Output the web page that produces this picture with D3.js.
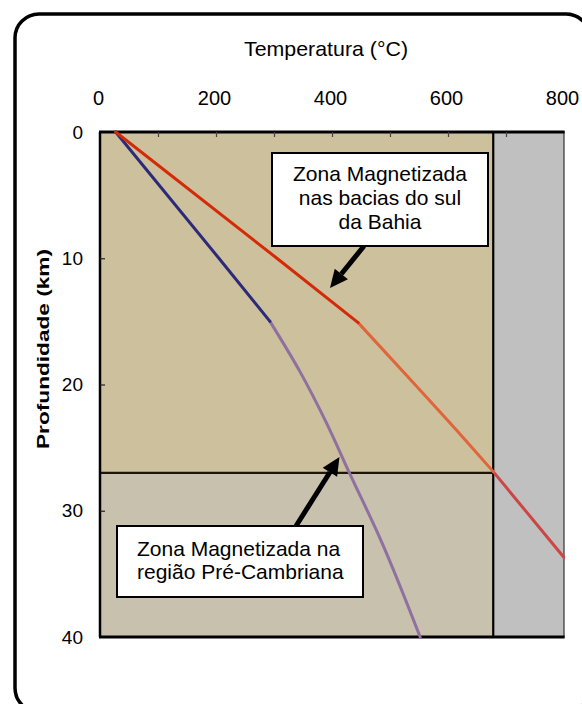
<!DOCTYPE html>
<html>
<head>
<meta charset="utf-8">
<script src="https://cdn.jsdelivr.net/npm/d3@7"></script>
<style>
  html, body { margin: 0; padding: 0; background: #ffffff; }
  svg { display: block; }
  text { font-family: "Liberation Sans", Arial, sans-serif; fill: #000; }
</style>
</head>
<body>
<script>
// Geotherms: temperature (°C) against depth (km)
const tempTicks = [0, 200, 400, 600, 800];
const tempMinorTicks = [100, 200, 300, 400, 500, 600, 700];
const depthTicks = [0, 10, 20, 30, 40];
const depthInnerTicks = [10, 20, 30];

// Pre-Cambrian region geotherm, upper (crust) segment and deeper segment
const precambrianUpperT = [27, 205, 293];
const precambrianUpperZ = [0, 10, 15];
const precambrianLowerT = [293, 345, 390, 430, 483, 552];
const precambrianLowerZ = [15, 19, 23, 27, 32.2, 40];

// Southern Bahia basins geotherm, three segments
const basinUpperT = [27, 305, 445];
const basinUpperZ = [0, 10, 15.1];
const basinMiddleT = [445, 543, 629, 678];
const basinMiddleZ = [15.1, 20, 24.35, 26.9];
const basinLowerT = [678, 800];
const basinLowerZ = [26.9, 33.7];

// Shaded zones
const curieTemp = 678;      // boundary of the magnetised zone (°C)
const mohoDepth = 27;       // lower limit of the basin zone (km)

const W = 582, H = 704;
const svg = d3.select("body").append("svg").attr("width", W).attr("height", H);

const x = d3.scaleLinear().domain([0, 800]).range([100, 564]);
const y = d3.scaleLinear().domain([0, 40]).range([132, 637]);

// Outer rounded frame
svg.append("rect")
  .attr("x", 15).attr("y", 14).attr("width", 575).attr("height", 698)
  .attr("rx", 24).attr("ry", 24)
  .attr("fill", "none").attr("stroke", "#000").attr("stroke-width", 3.5);

// Background zones
svg.append("rect")
  .attr("x", x(curieTemp)).attr("y", y(0))
  .attr("width", x(800) - x(curieTemp)).attr("height", y(40) - y(0))
  .attr("fill", "#c0c0c0").attr("stroke", "#333").attr("stroke-width", 1.2);
svg.append("rect")
  .attr("x", x(0)).attr("y", y(0))
  .attr("width", x(curieTemp) - x(0)).attr("height", y(mohoDepth) - y(0))
  .attr("fill", "#cdc09c");
svg.append("rect")
  .attr("x", x(0)).attr("y", y(mohoDepth))
  .attr("width", x(curieTemp) - x(0)).attr("height", y(40) - y(mohoDepth))
  .attr("fill", "#c8c1ad");

// Zone borders
svg.append("line")
  .attr("x1", x(0)).attr("x2", x(curieTemp))
  .attr("y1", y(mohoDepth)).attr("y2", y(mohoDepth))
  .attr("stroke", "#1e1608").attr("stroke-width", 2.2);
svg.append("line")
  .attr("x1", x(curieTemp)).attr("x2", x(curieTemp))
  .attr("y1", y(0)).attr("y2", y(40))
  .attr("stroke", "#000").attr("stroke-width", 2.2);
svg.append("line")
  .attr("x1", x(0)).attr("x2", x(0))
  .attr("y1", y(0)).attr("y2", y(40))
  .attr("stroke", "#000").attr("stroke-width", 2.5);
svg.append("line")
  .attr("x1", x(0) - 1).attr("x2", x(800) + 0.6)
  .attr("y1", y(0)).attr("y2", y(0))
  .attr("stroke", "#000").attr("stroke-width", 3);
svg.append("line")
  .attr("x1", x(0) - 1).attr("x2", x(800) + 0.6)
  .attr("y1", y(40)).attr("y2", y(40))
  .attr("stroke", "#000").attr("stroke-width", 3);

// Inner tick marks
svg.append("g")
  .attr("transform", `translate(0,${y(0)})`)
  .call(d3.axisBottom(x).tickValues(tempMinorTicks).tickSize(5).tickFormat(""))
  .call(g => g.select(".domain").remove())
  .call(g => g.selectAll("line").attr("stroke", "#444").attr("stroke-width", 1.2));
svg.append("g")
  .attr("transform", `translate(${x(0)},0)`)
  .call(d3.axisRight(y).tickValues(depthInnerTicks).tickSize(5).tickFormat(""))
  .call(g => g.select(".domain").remove())
  .call(g => g.selectAll("line").attr("stroke", "#222").attr("stroke-width", 1.2));

// Tick labels
svg.append("g")
  .attr("transform", `translate(-2,${y(0)})`)
  .call(d3.axisTop(x).tickValues(tempTicks).tickSize(0).tickPadding(27))
  .call(g => g.select(".domain").remove())
  .call(g => g.selectAll("text").attr("font-size", 20).attr("fill", "#000"));
svg.append("g")
  .attr("transform", `translate(${x(0)},0)`)
  .call(d3.axisLeft(y).tickValues(depthTicks).tickSize(0).tickPadding(17))
  .call(g => g.select(".domain").remove())
  .call(g => g.selectAll("text").attr("font-size", 19).attr("fill", "#000"));

// Axis titles
svg.append("text")
  .attr("x", 326).attr("y", 56).attr("text-anchor", "middle")
  .attr("font-size", 21).attr("textLength", 164).attr("lengthAdjust", "spacingAndGlyphs")
  .text("Temperatura (°C)");
svg.append("text")
  .attr("transform", "translate(49,349) rotate(-90)")
  .attr("text-anchor", "middle").attr("font-weight", "bold")
  .attr("font-size", 16.5).attr("textLength", 200).attr("lengthAdjust", "spacingAndGlyphs")
  .text("Profundidade (km)");

// Geotherm curves
const straight = d3.line().x(d => x(d[0])).y(d => y(d[1]));
const smooth = d3.line().x(d => x(d[0])).y(d => y(d[1])).curve(d3.curveMonotoneY);
const pairs = (T, Z) => T.map((t, i) => [t, Z[i]]);

svg.append("defs").append("clipPath").attr("id", "plotClip")
  .append("rect").attr("x", x(0)).attr("y", y(0) - 2)
  .attr("width", x(800) - x(0) + 1).attr("height", y(40) - y(0) + 4);

const curves = svg.append("g").attr("clip-path", "url(#plotClip)");
const series = [
  { T: precambrianLowerT, Z: precambrianLowerZ, color: "#8f70a0", gen: smooth },
  { T: basinLowerT, Z: basinLowerZ, color: "#cc4646", gen: straight },
  { T: basinMiddleT, Z: basinMiddleZ, color: "#e0653a", gen: smooth },
  { T: precambrianUpperT, Z: precambrianUpperZ, color: "#2d2a7a", gen: straight },
  { T: basinUpperT, Z: basinUpperZ, color: "#d42a08", gen: straight }
];
curves.selectAll("path.geotherm").data(series).join("path")
  .attr("class", "geotherm")
  .attr("d", s => s.gen(pairs(s.T, s.Z)))
  .attr("fill", "none").attr("stroke", s => s.color)
  .attr("stroke-width", 3).attr("stroke-linejoin", "round").attr("stroke-linecap", "round");

// Annotation arrows
function arrow(x1, y1, x2, y2) {
  const ang = Math.atan2(y2 - y1, x2 - x1);
  const headLen = 18, headHalf = 8.5;
  const bx = x2 - headLen * Math.cos(ang), by = y2 - headLen * Math.sin(ang);
  svg.append("line")
    .attr("x1", x1).attr("y1", y1).attr("x2", bx).attr("y2", by)
    .attr("stroke", "#000").attr("stroke-width", 5);
  const px = -Math.sin(ang), py = Math.cos(ang);
  svg.append("path")
    .attr("d", `M${x2},${y2} L${bx + px * headHalf},${by + py * headHalf} L${bx - px * headHalf},${by - py * headHalf} Z`)
    .attr("fill", "#000");
}
arrow(364, 246, 330, 288);
arrow(296, 526, 339.5, 457);

// Annotation boxes
svg.append("rect")
  .attr("x", 272).attr("y", 153).attr("width", 216).attr("height", 93)
  .attr("fill", "#fff").attr("stroke", "#000").attr("stroke-width", 2);
const box1Lines = ["Zona Magnetizada", "nas bacias do sul", "da Bahia"];
svg.append("g").selectAll("text").data(box1Lines).join("text")
  .attr("x", 380).attr("y", (d, i) => 181 + i * 24)
  .attr("text-anchor", "middle").attr("font-size", 21)
  .text(d => d);

svg.append("rect")
  .attr("x", 117).attr("y", 526).attr("width", 246).attr("height", 71)
  .attr("fill", "#fff").attr("stroke", "#000").attr("stroke-width", 2);
const box2Lines = ["Zona Magnetizada na", "região Pré-Cambriana"];
svg.append("g").selectAll("text").data(box2Lines).join("text")
  .attr("x", 137).attr("y", (d, i) => 555.5 + i * 23)
  .attr("font-size", 21)
  .text(d => d);
</script>
</body>
</html>
